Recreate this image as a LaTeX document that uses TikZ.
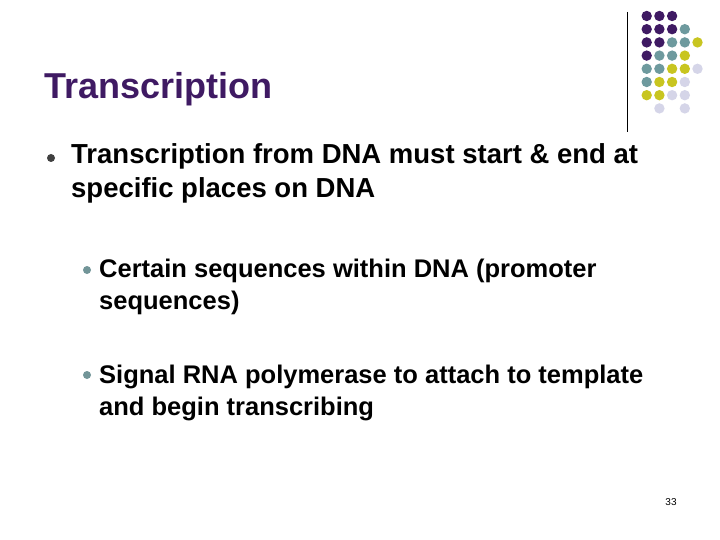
\documentclass[tikz,border=0pt]{standalone}
\usepackage{fontspec}
\setmainfont{Liberation Sans}
\definecolor{pp}{HTML}{3F1A63}
\definecolor{tt}{HTML}{6E9A9E}
\definecolor{yy}{HTML}{C8C520}
\definecolor{ll}{HTML}{D5D5E8}
\definecolor{nn}{HTML}{FFFFFF}
\begin{document}
\begin{tikzpicture}[x=1pt,y=-1pt,
  txt/.style={anchor=base west,inner sep=0pt,align=left,font=\bfseries\fontsize{27.5}{33}\selectfont},
  stxt/.style={anchor=base west,inner sep=0pt,align=left,font=\bfseries\fontsize{25.5}{32}\selectfont},
  bul/.style={circle,inner sep=0pt,minimum size=8pt}]
\useasboundingbox (0,0) rectangle (720,540);
\draw[line width=1pt] (627,12) -- (627,132);
\foreach \row [count=\r] in {{pp,pp,pp},{pp,pp,pp,tt},{pp,pp,tt,tt,yy},{pp,tt,tt,yy},{tt,tt,yy,yy,ll},{tt,yy,yy,ll},{yy,yy,ll,ll},{nn,ll,nn,ll}}{
  \foreach \c [count=\k] in \row {
    \fill[\c] ({646.7+12.7*(\k-1)},{16+13.2*(\r-1)}) circle (5.2);
  }
}
\node[anchor=base west,inner sep=0pt,text=pp,font=\bfseries\fontsize{36}{40}\selectfont] (title) at (44,99) {Transcription};
\node[bul,fill=black!75] (b1) at (51,158) {};
\node[txt] (t1) at (71,197) {Transcription from DNA must start \& end at\\specific places on DNA};
\node[bul,fill=tt!80!gray] (b2) at (87,270) {};
\node[stxt] (t2) at (99,309) {Certain sequences within DNA (promoter\\sequences)};
\node[bul,fill=tt!80!gray] (b3) at (87,375) {};
\node[stxt] (t3) at (99,415) {Signal RNA polymerase to attach to template\\and begin transcribing};
\node[anchor=base,inner sep=0pt,font=\fontsize{10}{12}\selectfont] (pg) at (671,505) {33};
\end{tikzpicture}
\end{document}
